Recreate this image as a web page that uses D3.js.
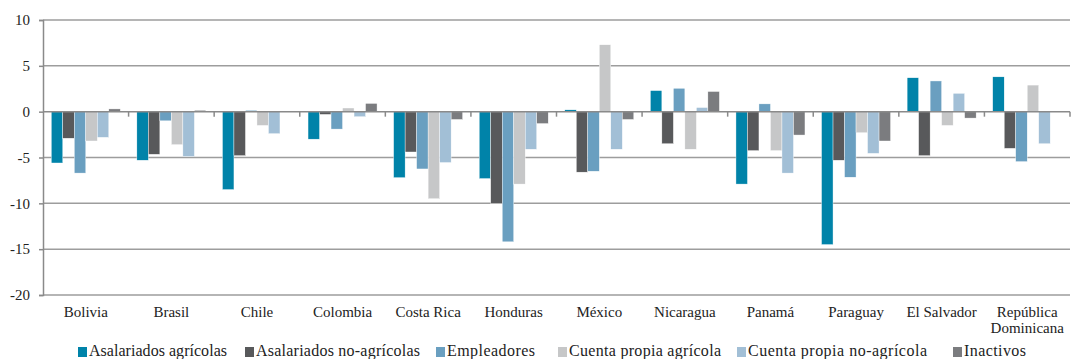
<!DOCTYPE html>
<html>
<head>
<meta charset="utf-8">
<script src="https://cdn.jsdelivr.net/npm/d3@7"></script>
<style>
  body { margin: 0; background: #fff; }
</style>
</head>
<body>
<script>
// countries, in order along the x axis
const countries = ["Bolivia", "Brasil", "Chile", "Colombia", "Costa Rica", "Honduras",
  "México", "Nicaragua", "Panamá", "Paraguay", "El Salvador", "República\nDominicana"];

const seriesNames = ["Asalariados agrícolas", "Asalariados no-agrícolas", "Empleadores",
  "Cuenta propia agrícola", "Cuenta propia no-agrícola", "Inactivos"];

const seriesColors = ["#0083a9", "#58595b", "#6a9fc0", "#c6c7c8", "#a2bfd6", "#7b7c7f"];

// one array per series, same order as countries
const asalAgr   = [-5.6, -5.3, -8.5, -3.0, -7.2, -7.3, 0.2, 2.3, -7.9, -14.5, 3.7, 3.8];
const asalNoAgr = [-2.9, -4.65, -4.8, -0.3, -4.4, -10.0, -6.6, -3.5, -4.25, -5.3, -4.8, -4.0];
const empleador = [-6.7, -1.0, 0.15, -1.9, -6.25, -14.2, -6.5, 2.55, 0.85, -7.15, 3.35, -5.45];
const cpAgr     = [-3.2, -3.6, -1.5, 0.4, -9.5, -7.9, 7.3, -4.1, -4.25, -2.3, -1.5, 2.9];
const cpNoAgr   = [-2.8, -4.9, -2.4, -0.55, -5.55, -4.1, -4.1, 0.45, -6.7, -4.55, 2.0, -3.5];
const inactivos = [0.3, 0.15, 0, 0.9, -0.85, -1.3, -0.85, 2.2, -2.55, -3.2, -0.7, 0];

const series = [asalAgr, asalNoAgr, empleador, cpAgr, cpNoAgr, inactivos];
const yTicks = [10, 5, 0, -5, -10, -15, -20];

const FONT = "'Liberation Serif', 'Liberation Sans', sans-serif";
const width = 1075, height = 359;
const margin = {left: 43, right: 5, top: 20, bottom: 64};

const svg = d3.select("body").append("svg")
  .attr("width", width)
  .attr("height", height)
  .attr("font-family", FONT);

const x0 = d3.scaleBand()
  .domain(countries)
  .range([margin.left, width - margin.right]);

const x1 = d3.scaleBand()
  .domain(d3.range(series.length))
  .range([0, x0.bandwidth()])
  .paddingOuter(0.72);

const y = d3.scaleLinear()
  .domain([-20, 10])
  .range([height - margin.bottom, margin.top]);

// grid lines
svg.append("g")
  .selectAll("line")
  .data(yTicks.filter(d => d !== 0))
  .enter().append("line")
  .attr("x1", margin.left)
  .attr("x2", width - margin.right)
  .attr("y1", d => y(d))
  .attr("y2", d => y(d))
  .attr("stroke", "#9d9d9d")
  .attr("stroke-width", 1.5);

// bars
const rows = countries.map((c, i) => ({country: c, vals: series.map(s => s[i])}));
const grp = svg.append("g")
  .selectAll("g")
  .data(rows)
  .enter().append("g")
  .attr("transform", d => `translate(${x0(d.country)},0)`);

grp.selectAll("rect")
  .data(d => d.vals.map((v, k) => ({k, v})))
  .enter().append("rect")
  .attr("x", d => x1(d.k))
  .attr("width", x1.bandwidth())
  .attr("y", d => y(Math.max(0, d.v)))
  .attr("height", d => Math.abs(y(d.v) - y(0)))
  .attr("fill", d => seriesColors[d.k])
  .attr("stroke", "#fff")
  .attr("stroke-width", 0.4);

// zero line with category ticks
svg.append("line")
  .attr("x1", margin.left)
  .attr("x2", width - margin.right)
  .attr("y1", y(0))
  .attr("y2", y(0))
  .attr("stroke", "#8a8a8a")
  .attr("stroke-width", 1.5);

svg.append("g")
  .selectAll("line")
  .data(countries)
  .enter().append("line")
  .attr("x1", d => x0(d) + x0.bandwidth())
  .attr("x2", d => x0(d) + x0.bandwidth())
  .attr("y1", y(0))
  .attr("y2", y(0) + 5)
  .attr("stroke", "#8a8a8a")
  .attr("stroke-width", 1.5);

// y axis
const yAxis = d3.axisLeft(y)
  .tickValues(yTicks)
  .tickFormat(d => String(d))
  .tickSize(4)
  .tickPadding(9);

const ya = svg.append("g")
  .attr("transform", `translate(${margin.left},0)`)
  .call(yAxis)
  .attr("font-family", FONT)
  .attr("font-size", 15);
ya.select(".domain").attr("stroke", "#8a8a8a").attr("stroke-width", 1.5);
ya.selectAll(".tick line").attr("stroke", "#8a8a8a").attr("stroke-width", 1.5);
ya.selectAll(".tick text").attr("fill", "#222");

// category labels
const lab = svg.append("g")
  .selectAll("text")
  .data(countries)
  .enter().append("text")
  .attr("x", d => x0(d) + x0.bandwidth() / 2)
  .attr("y", height - margin.bottom + 22)
  .attr("text-anchor", "middle")
  .attr("font-size", 15)
  .attr("fill", "#222");

lab.selectAll("tspan")
  .data(d => d.split("\n"))
  .enter().append("tspan")
  .attr("x", function () { return d3.select(this.parentNode).attr("x"); })
  .attr("dy", (d, i) => i === 0 ? 0 : 16)
  .text(d => d);

// legend
const legendX = [78, 245, 436, 558, 737, 953];
const legendW = [138, 164, 88, 152, 179, 62];
const leg = svg.append("g")
  .selectAll("g")
  .data(seriesNames)
  .enter().append("g")
  .attr("transform", (d, i) => `translate(${legendX[i]},356)`);

leg.append("rect")
  .attr("x", 0)
  .attr("y", -9)
  .attr("width", 9)
  .attr("height", 10)
  .attr("fill", (d, i) => seriesColors[i]);

leg.append("text")
  .attr("x", 11)
  .attr("y", 0)
  .attr("font-size", 16)
  .attr("fill", "#222")
  .attr("textLength", (d, i) => legendW[i])
  .attr("lengthAdjust", "spacing")
  .text(d => d);
</script>
</body>
</html>
